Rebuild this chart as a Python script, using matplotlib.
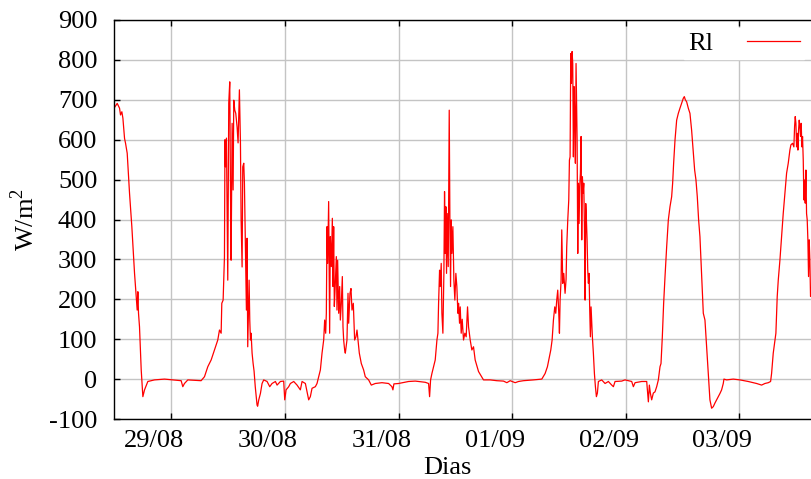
import numpy as np
import matplotlib
matplotlib.use('Agg')
import matplotlib.pyplot as plt
import matplotlib.transforms as mtransforms

plt.rcParams['font.family'] = 'Liberation Serif'
plt.rcParams['mathtext.fontset'] = 'custom'
plt.rcParams['mathtext.rm'] = 'Liberation Serif'
plt.rcParams['axes.unicode_minus'] = False

# hours after 29/08 00:00 and Rl (W/m2)
hours = [-12.03, -11.47, -10.98, -10.77, -10.49, -10.27, -9.92, -9.71, -9.36, -8.87,
         -8.38, -7.81, -7.46, -7.25, -7.11, -6.97, -6.76, -6.40, -6.05, -5.70,
         -5.00, -3.59, -1.48, 0.28, 2.04, 2.39, 2.74, 3.45, 6.26, 6.97,
         7.67, 8.38, 9.09, 9.78, 10.14, 10.49, 10.63, 10.91, 11.05, 11.19,
         11.30, 11.40, 11.61, 11.89, 12.10, 12.31, 12.46, 12.60, 12.81, 13.02,
         13.16, 13.37, 13.58, 13.86, 14.07, 14.35, 14.57, 14.71, 14.92, 15.06,
         15.27, 15.41, 15.55, 15.83, 15.97, 16.11, 16.40, 16.54, 16.68, 16.82,
         17.03, 17.24, 17.45, 17.70, 18.08, 18.20, 18.44, 18.79, 19.14, 19.49,
         20.20, 20.76, 21.25, 21.96, 22.31, 23.01, 23.71, 23.93, 24.21, 24.77,
         25.12, 25.83, 26.53, 27.23, 27.59, 28.29, 28.99, 29.34, 29.70, 30.40,
         30.75, 31.10, 31.46, 31.81, 32.16, 32.37, 32.58, 32.72, 32.86, 33.00,
         33.21, 33.42, 33.56, 33.78, 33.99, 34.13, 34.27, 34.41, 34.62, 34.83,
         34.97, 35.11, 35.33, 35.54, 35.68, 35.89, 36.10, 36.24, 36.38, 36.59,
         36.73, 37.08, 37.30, 37.44, 37.72, 37.93, 38.14, 38.42, 38.70, 38.98,
         39.20, 39.41, 39.69, 40.11, 40.60, 40.95, 41.66, 42.22, 43.07, 44.47,
         45.88, 46.58, 46.79, 47.00, 47.99, 50.10, 51.51, 53.62, 54.33, 54.54,
         54.75, 55.03, 55.38, 55.73, 56.09, 56.30, 56.44, 56.65, 56.79, 57.00,
         57.14, 57.35, 57.56, 57.70, 57.84, 57.98, 58.12, 58.26, 58.48, 58.69,
         58.83, 58.97, 59.11, 59.25, 59.46, 59.67, 59.88, 60.09, 60.30, 60.52,
         60.66, 60.87, 61.01, 61.22, 61.43, 61.71, 61.99, 62.27, 62.56, 62.77,
         63.12, 63.47, 63.82, 64.17, 64.88, 65.93, 67.34, 68.75, 70.16, 70.86,
         71.57, 72.62, 73.33, 74.38, 76.49, 78.25, 78.95, 79.44, 79.87, 80.15,
         80.43, 80.71, 80.99, 81.20, 81.41, 81.62, 81.84, 81.98, 82.12, 82.33,
         82.47, 82.68, 82.89, 83.17, 83.38, 83.52, 83.74, 83.95, 84.09, 84.23,
         84.37, 84.51, 84.65, 84.79, 84.93, 85.07, 85.21, 85.35, 85.49, 85.71,
         85.85, 85.99, 86.13, 86.27, 86.41, 86.55, 86.69, 86.83, 86.97, 87.12,
         87.26, 87.40, 87.54, 87.68, 87.82, 87.96, 88.10, 88.24, 88.38, 88.52,
         88.66, 88.94, 89.15, 89.37, 89.58, 89.79, 90.00, 90.21, 90.91, 91.62,
         92.32, 93.03, 93.38, 93.73, 95.14, 95.84, 97.25, 97.60, 97.96, 99.36,
         100.42, 100.77, 100.98, 101.19, 101.47, 101.82, 102.17, 102.53, 102.88, 103.23,
         103.44, 103.72, 104.00, 104.29, 104.64, 104.99, 105.34, 105.69, 105.90, 106.11,
         106.40, 106.75, 107.10, 107.45, 107.80, 108.16, 108.37, 108.58, 108.86, 109.21,
         109.56, 109.91, 110.27, 110.55, 110.83, 111.11, 111.39, 111.67, 112.02, 112.38,
         112.73, 113.08, 113.43, 113.78, 114.14, 114.49, 114.84, 115.19, 115.55, 115.90,
         116.25, 116.60, 116.74, 117.31, 118.71, 120.12, 121.88, 123.64, 124.70, 125.40,
         126.11, 126.60, 126.81, 127.16, 127.72, 128.00, 128.22, 128.57, 128.92, 129.27,
         129.62, 129.98, 130.33, 130.68, 130.89, 131.24, 131.52, 131.67, 131.81, 131.95,
         132.09, 132.23, 132.37, 132.51, 132.65, 132.79, 132.93, 133.07, 133.21, 133.35,
         133.50, 133.64, 133.78, 133.92, 134.06, 134.20, 134.34, 134.48, 134.62, 134.76,
         134.90, 135.04, 135.32]

rl = [681, 691, 679, 662, 670, 654, 603, 591, 566, 466,
      382, 265, 207, 173, 219, 165, 131, 23, -44, -27,
      -6, -2, 0, -2, -4, -19, -11, -2, -4, 6,
      31, 48, 73, 98, 123, 115, 190, 198, 248, 306,
      600, 532, 604, 248, 692, 745, 481, 298, 641, 474,
      699, 674, 666, 632, 592, 725, 592, 399, 281, 532,
      541, 491, 382, 173, 353, 81, 248, 148, 98, 115,
      65, 40, 20, -19, -65, -68, -52, -36, -11, -2,
      -6, -19, -11, -6, -15, -6, -5, -52, -27, -19,
      -11, -6, -15, -27, -6, -11, -52, -44, -23, -19,
      -11, 6, 23, 65, 98, 148, 115, 165, 382, 290,
      445, 115, 357, 282, 403, 232, 382, 182, 240, 307,
      173, 298, 165, 232, 148, 190, 257, 131, 98, 73,
      65, 98, 215, 140, 215, 227, 173, 190, 98, 106,
      123, 98, 65, 39, 23, 6, -2, -15, -11, -9,
      -11, -19, -27, -12, -11, -6, -5, -8, -11, -44,
      -2, 14, 31, 48, 98, 115, 190, 273, 232, 290,
      165, 115, 265, 470, 315, 432, 265, 415, 282, 674,
      399, 232, 399, 315, 382, 248, 198, 265, 232, 165,
      190, 140, 181, 115, 150, 98, 115, 106, 181, 131,
      98, 73, 81, 48, 19, -2, -2, -4, -5, -9,
      -4, -9, -6, -4, -2, 0, 14, 31, 56, 73,
      98, 148, 181, 165, 198, 223, 165, 115, 198, 248,
      374, 240, 265, 215, 250, 332, 399, 449, 549, 557,
      816, 741, 821, 791, 557, 733, 658, 541, 791, 600,
      315, 491, 390, 482, 516, 608, 349, 507, 466, 491,
      382, 198, 440, 399, 349, 273, 240, 265, 173, 106,
      181, 106, 65, 14, -19, -44, -35, -6, -2, -11,
      -6, -15, -19, -6, -5, -2, -6, -19, -9, -6,
      -6, -57, -15, -35, -52, -35, -32, -19, -2, 31,
      39, 106, 190, 257, 332, 399, 432, 457, 491, 541,
      599, 649, 666, 679, 691, 704, 708, 700, 695, 679,
      666, 624, 566, 524, 499, 457, 399, 357, 265, 165,
      148, 81, 14, -52, -73, -69, -60, -52, -44, -36,
      -27, -11, 0, -2, 0, -2, -6, -11, -15, -11,
      -9, -6, 14, 65, 115, 207, 248, 298, 357, 415,
      466, 516, 541, 574, 587, 591, 582, 633, 658, 641,
      582, 616, 574, 624, 649, 633, 608, 641, 582, 608,
      549, 449, 499, 441, 524, 415, 399, 349, 257, 349,
      298, 207, 210]

day_ticks = [0, 24, 48, 72, 96, 120]
day_labels = ['29/08', '30/08', '31/08', '01/09', '02/09', '03/09']
y_ticks = list(range(-100, 1000, 100))

fig = plt.figure(figsize=(8.12, 4.79), dpi=100)
ax = fig.add_axes([114/812, 60/479, 698/812, 399/479])

ax.plot(hours, rl, color='#ff0000', lw=0.9, label='Rl')

ax.set_xlim(-12.15, 135.35)
ax.set_ylim(-100, 900)
ax.set_xticks(day_ticks)
ax.set_xticklabels(day_labels)
ax.set_yticks(y_ticks)

ax.grid(True, color='#c4c4c4', lw=1.0)
ax.set_axisbelow(True)
ax.spines['right'].set_visible(False)
for s in ['left', 'top', 'bottom']:
    ax.spines[s].set_linewidth(1.0)

ax.tick_params(axis='both', direction='in', length=4, width=1, labelsize=19,
               top=True, right=False)
ax.tick_params(axis='y', pad=12)
ax.tick_params(axis='x', pad=8)

# labels in the original sit a bit left of their ticks
shift = mtransforms.ScaledTranslation(-17/100, 0, fig.dpi_scale_trans)
for lab in ax.get_xticklabels():
    lab.set_transform(lab.get_transform() + shift)

ax.set_xlabel('Dias', fontsize=19, labelpad=0)
ax.xaxis.set_label_coords(0.477, -0.095)
ax.set_ylabel(r'W/m$^{2}$', fontsize=19)
ax.yaxis.set_label_coords(-0.108, 0.5)

leg = ax.legend(loc='upper right', bbox_to_anchor=(1.0, 1.0), fontsize=19,
                markerfirst=False, frameon=True, fancybox=False,
                handlelength=2.0, handletextpad=1.3, borderpad=0.15,
                borderaxespad=0.3)
leg.get_frame().set_facecolor('white')
leg.get_frame().set_edgecolor('white')
leg.get_frame().set_alpha(1)

fig.savefig('out.png', dpi=100)
